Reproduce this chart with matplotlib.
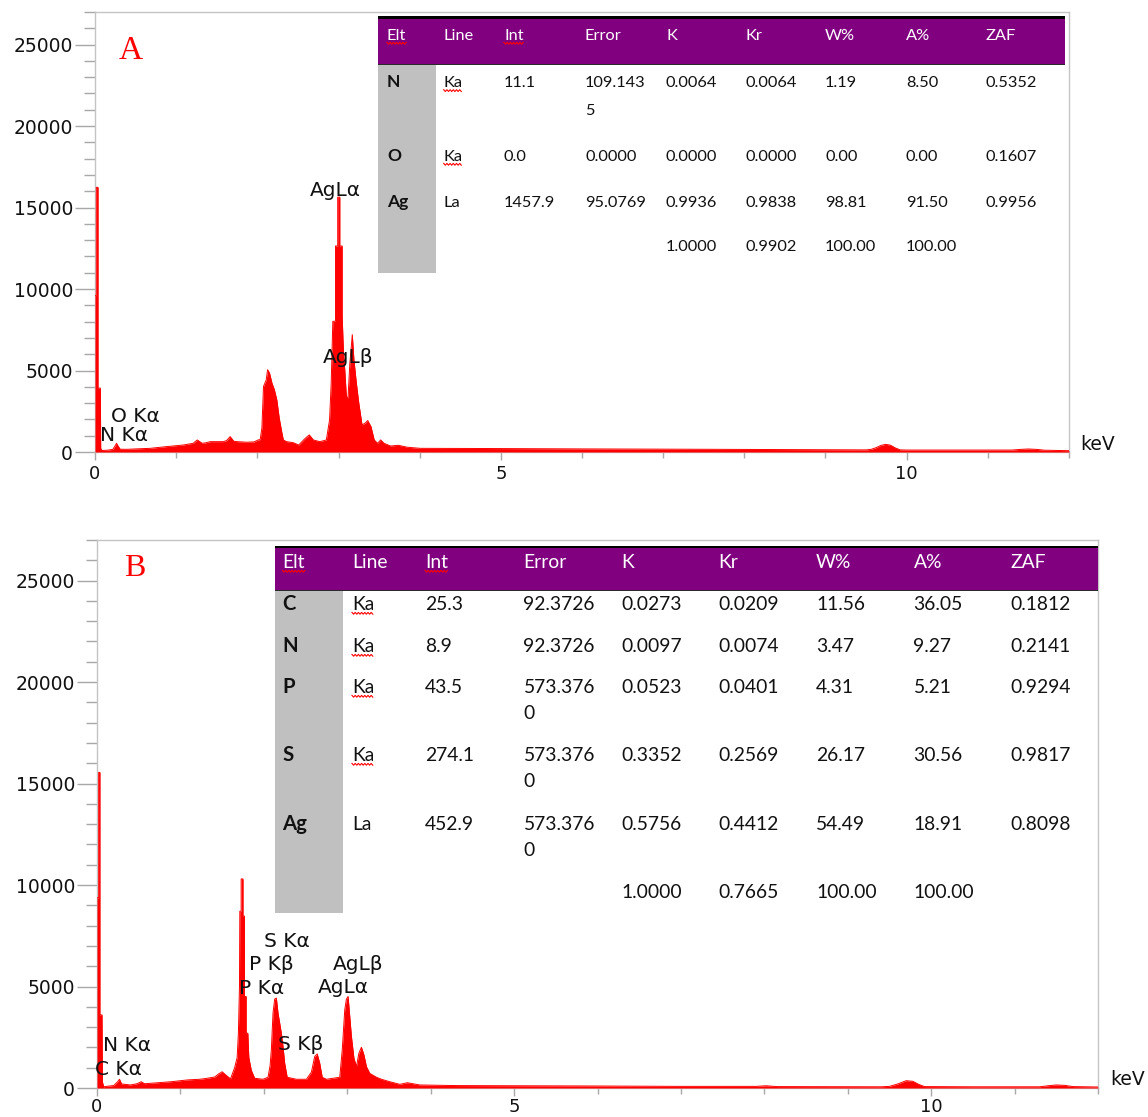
import matplotlib
matplotlib.use("Agg")
import matplotlib.pyplot as plt
from matplotlib.patches import Rectangle
from matplotlib.lines import Line2D
from matplotlib.ticker import MultipleLocator, FixedLocator

# ---------------- data ----------------
# Spectrum A (keV, counts)
energy_a = [0.000, 0.016, 0.016, 0.037, 0.037, 0.066, 0.070, 0.085, 0.15, 0.22,
            0.25, 0.265, 0.28, 0.31, 0.40, 0.50, 0.68, 0.88, 1.09, 1.21,
            1.26, 1.32, 1.36, 1.42, 1.58, 1.62, 1.665, 1.71, 1.75, 1.87,
            1.96, 2.01, 2.035, 2.056, 2.076, 2.11, 2.126, 2.15, 2.18, 2.21,
            2.24, 2.27, 2.30, 2.32, 2.36, 2.44, 2.51, 2.59, 2.64, 2.69,
            2.77, 2.85, 2.89, 2.91, 2.93, 2.963, 2.963, 2.99, 2.99, 3.016,
            3.016, 3.045, 3.045, 3.06, 3.077, 3.097, 3.117, 3.14, 3.17, 3.19,
            3.22, 3.25, 3.29, 3.33, 3.36, 3.40, 3.44, 3.48, 3.52, 3.56,
            3.64, 3.74, 3.85, 4.01, 4.75, 6.00, 7.60, 9.50, 9.56, 9.62,
            9.68, 9.74, 9.80, 9.86, 9.92, 10.00, 11.30, 11.40, 11.50, 11.60,
            11.70, 12.00]
counts_a = [9600, 9600, 16240, 16240, 3920, 3920, 230, 90, 110, 160,
            400, 535, 400, 170, 165, 190, 225, 330, 430, 535,
            740, 535, 560, 635, 635, 700, 945, 660, 635, 600,
            620, 740, 760, 1460, 4020, 4430, 5050, 4850, 4230, 3820,
            3200, 2070, 1250, 740, 635, 575, 430, 840, 1050, 740,
            635, 740, 1970, 4230, 8020, 8020, 12640, 12640, 15640, 15640,
            12640, 12640, 8330, 6280, 5050, 3400, 3320, 5460, 7200, 5660,
            4230, 3000, 1660, 1780, 1930, 1560, 740, 535, 740, 535,
            370, 410, 290, 225, 215, 190, 165, 130, 160, 260,
            400, 470, 420, 250, 130, 120, 120, 160, 185, 160,
            110, 80]

# Spectrum B (keV, counts)
energy_b = [0.000, 0.020, 0.020, 0.035, 0.035, 0.060, 0.065, 0.080, 0.13, 0.20,
            0.245, 0.27, 0.295, 0.40, 0.48, 0.53, 0.57, 0.70, 0.89, 1.09,
            1.23, 1.29, 1.41, 1.46, 1.50, 1.55, 1.60, 1.65, 1.68, 1.695,
            1.708, 1.712, 1.728, 1.728, 1.750, 1.750, 1.768, 1.768, 1.788, 1.788,
            1.808, 1.82, 1.85, 1.89, 1.99, 2.05, 2.075, 2.09, 2.11, 2.13,
            2.15, 2.17, 2.19, 2.21, 2.23, 2.25, 2.28, 2.39, 2.51, 2.57,
            2.61, 2.64, 2.67, 2.70, 2.75, 2.91, 2.94, 2.97, 2.99, 3.01,
            3.03, 3.05, 3.08, 3.11, 3.14, 3.17, 3.20, 3.23, 3.27, 3.35,
            3.41, 3.51, 3.63, 3.72, 3.87, 4.30, 5.90, 7.00, 7.90, 8.02,
            8.15, 9.40, 9.50, 9.60, 9.70, 9.78, 9.85, 9.92, 10.50, 11.30,
            11.40, 11.50, 11.60, 11.70, 12.00]
counts_b = [9370, 9370, 15550, 15550, 3600, 3600, 300, 60, 90, 120,
            300, 430, 200, 150, 210, 310, 210, 250, 310, 400,
            430, 460, 540, 700, 800, 620, 450, 1000, 1500, 2700,
            5000, 8710, 8710, 10300, 10300, 8470, 8470, 4510, 4510, 2700,
            2700, 1500, 870, 480, 430, 530, 1100, 1880, 3690, 4380,
            4430, 3690, 3200, 2700, 2040, 1220, 530, 430, 430, 780,
            1550, 1680, 1220, 530, 430, 530, 1880, 3850, 4380, 4510,
            3520, 2540, 1470, 1050, 1720, 2010, 1630, 1050, 720, 530,
            430, 310, 180, 260, 150, 120, 100, 80, 80, 110,
            70, 60, 80, 200, 360, 330, 180, 70, 60, 60,
            110, 150, 130, 70, 50]

# peak labels
labels_a = ["AgL\u03b1", "AgL\u03b2", "O K\u03b1", "N K\u03b1"]
label_a_x = [2.651, 2.811, 0.197, 0.062]
label_a_y = [15700, 5480, 1850, 680]

labels_b = ["N K\u03b1", "C K\u03b1", "S K\u03b1", "P K\u03b2", "P K\u03b1",
            "AgL\u03b2", "AgL\u03b1", "S K\u03b2"]
label_b_x = [0.072, -0.024, 2.00, 1.82, 1.70, 2.826, 2.647, 2.168]
label_b_y = [1828, 642, 6966, 5830, 4644, 5830, 4694, 1877]

# quantification tables
table_headers = ["Elt", "Line", "Int", "Error", "K", "Kr", "W%", "A%", "ZAF"]
table_a_rows = [
    ["N", "Ka", "11.1", "109.143\n5", "0.0064", "0.0064", "1.19", "8.50", "0.5352"],
    ["O", "Ka", "0.0", "0.0000", "0.0000", "0.0000", "0.00", "0.00", "0.1607"],
    ["Ag", "La", "1457.9", "95.0769", "0.9936", "0.9838", "98.81", "91.50", "0.9956"],
    ["", "", "", "", "1.0000", "0.9902", "100.00", "100.00", ""],
]
table_b_rows = [
    ["C", "Ka", "25.3", "92.3726", "0.0273", "0.0209", "11.56", "36.05", "0.1812"],
    ["N", "Ka", "8.9", "92.3726", "0.0097", "0.0074", "3.47", "9.27", "0.2141"],
    ["P", "Ka", "43.5", "573.376\n0", "0.0523", "0.0401", "4.31", "5.21", "0.9294"],
    ["S", "Ka", "274.1", "573.376\n0", "0.3352", "0.2569", "26.17", "30.56", "0.9817"],
    ["Ag", "La", "452.9", "573.376\n0", "0.5756", "0.4412", "54.49", "18.91", "0.8098"],
    ["", "", "", "", "1.0000", "0.7665", "100.00", "100.00", ""],
]

# ---------------- figure ----------------
W, H = 1148, 1117
fig = plt.figure(figsize=(W / 100, H / 100), dpi=100)
fig.patch.set_facecolor("white")

SPINE = "#c4c4c4"
TICK = "#a8a8a8"
TICKFONT = "DejaVu Sans"


def fx(x):
    return x / W


def fy(y):
    return 1 - y / H


def make_axes(l, t, r, b):
    return fig.add_axes([fx(l), fy(b), (r - l) / W, (b - t) / H])


def style_axes(ax, xpad):
    ax.set_xlim(0, 12)
    ax.set_ylim(0, 27000)
    ax.yaxis.set_major_locator(FixedLocator([0, 5000, 10000, 15000, 20000, 25000]))
    ax.yaxis.set_minor_locator(MultipleLocator(1000))
    ax.xaxis.set_major_locator(FixedLocator([0, 5, 10]))
    ax.xaxis.set_minor_locator(MultipleLocator(1))
    for s in ax.spines.values():
        s.set_color(SPINE)
        s.set_linewidth(1.0)
    ax.tick_params(axis="y", which="major", direction="out", length=14.4,
                   width=1, color=TICK, pad=1.5, labelsize=13.5)
    ax.tick_params(axis="y", which="minor", direction="out", length=8,
                   width=1, color=TICK)
    ax.tick_params(axis="x", which="major", direction="out", length=6,
                   width=1, color=TICK, pad=xpad, labelsize=13)
    ax.tick_params(axis="x", which="minor", direction="out", length=4,
                   width=1, color=TICK)
    for lab in ax.get_xticklabels() + ax.get_yticklabels():
        lab.set_fontfamily(TICKFONT)
        lab.set_color("#111111")


def draw_spectrum(ax, e, c):
    ax.fill_between(e, 0, c, color="#ff0000", lw=0, zorder=3)
    ax.plot(e, c, color="#ff0000", lw=0.7, zorder=3)


# Panel A
ax_a = make_axes(95, 12, 1069, 452)
style_axes(ax_a, 3.5)
draw_spectrum(ax_a, energy_a, counts_a)
for s, x, y in zip(labels_a, label_a_x, label_a_y):
    ax_a.text(x, y, s, ha="left", va="baseline", fontsize=14.5,
              family="DejaVu Sans", color="#111111", zorder=5)
ax_a.text(1.0113, 0.018, "keV", transform=ax_a.transAxes, ha="left",
          va="center", fontsize=13.5, family="DejaVu Sans", color="#111111")
ax_a.text(0.0364, 0.911, "A", transform=ax_a.transAxes, ha="center",
          va="center", fontsize=24, family="Liberation Serif", color="#ff0000")

# Panel B
ax_b = make_axes(97, 540, 1098, 1088)
style_axes(ax_b, 1.2)
draw_spectrum(ax_b, energy_b, counts_b)
for s, x, y in zip(labels_b, label_b_x, label_b_y):
    ax_b.text(x, y, s, ha="left", va="baseline", fontsize=14.5,
              family="DejaVu Sans", color="#111111", zorder=5)
ax_b.text(1.012, 0.0146, "keV", transform=ax_b.transAxes, ha="left",
          va="center", fontsize=13.5, family="DejaVu Sans", color="#111111")
ax_b.text(0.038, 0.948, "B", transform=ax_b.transAxes, ha="center",
          va="center", fontsize=23, family="Liberation Serif", color="#ff0000")

# ---------------- tables ----------------
renderer = fig.canvas.get_renderer()


def rect(x0, y0, x1, y1, color, z=10):
    fig.patches.append(Rectangle((fx(x0), fy(y1)), (x1 - x0) / W, (y1 - y0) / H,
                                 transform=fig.transFigure, facecolor=color,
                                 edgecolor="none", zorder=z))


def squiggle(text_obj, base_y):
    bb = text_obj.get_window_extent(renderer=renderer)
    x0, x1 = bb.x0, bb.x1
    xs, ys = [], []
    x = x0
    k = 0
    while x <= x1:
        xs.append(fx(x))
        ys.append(fy(base_y + 3 + (1.2 if k % 2 else -0.6)))
        x += 1.6
        k += 1
    fig.lines.append(Line2D(xs, ys, transform=fig.transFigure, color="#ff0000",
                            lw=0.8, zorder=12))


def draw_table(left, right, line_top, head_bottom, gray_right, gray_bottom,
               col_x, head_base, row_bases, line_gap, fsize, rows):
    rect(left, line_top, right, line_top + 2.5, "#000000", z=11)
    rect(left, line_top + 2.5, right, head_bottom, "#800080")
    rect(left, head_bottom, right, head_bottom + 1, "#2a2a2a", z=11)
    rect(left, head_bottom + 1, gray_right, gray_bottom, "#c0c0c0")
    for j, h in enumerate(table_headers):
        t = fig.text(fx(col_x[j]), fy(head_base), h, ha="left", va="baseline",
                     fontsize=fsize, family="Lato", color="white", zorder=13)
        if h in ("Elt", "Int"):
            squiggle(t, head_base)
    for i, row in enumerate(rows):
        for j, val in enumerate(row):
            for k, line in enumerate(val.split("\n")):
                if not line:
                    continue
                yb = row_bases[i] + k * line_gap
                t = fig.text(fx(col_x[j]), fy(yb), line, ha="left", va="baseline",
                             fontsize=fsize + (0.8 if j == 0 else 0), family="Lato",
                             fontweight="bold" if j == 0 else "normal",
                             color="#111111", zorder=13)
                if line == "Ka":
                    squiggle(t, yb)


draw_table(378, 1065, 16, 64, 436, 273,
           [387, 443.7, 504, 585, 666, 745, 825, 906, 986],
           40, [87.3, 161, 207, 251], 28, 11.8, table_a_rows)
draw_table(275, 1098, 545.5, 590, 343, 913,
           [282.5, 352, 425, 523.5, 621.5, 718, 816, 913.5, 1010],
           568, [610, 652, 693, 761, 830, 898], 26, 13.9, table_b_rows)

fig.savefig("out.png", dpi=100, facecolor="white")
